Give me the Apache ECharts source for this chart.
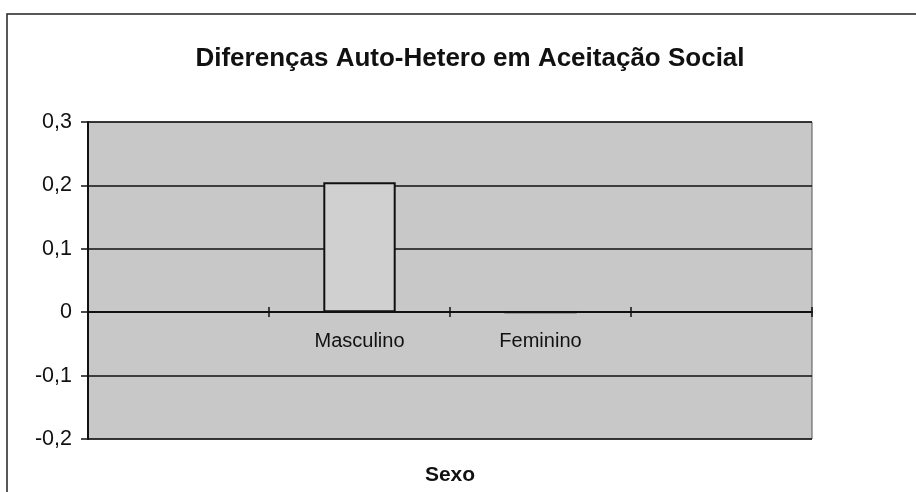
<!DOCTYPE html>
<html>
<head>
<meta charset="utf-8">
<script src="https://cdn.jsdelivr.net/npm/echarts@6/dist/echarts.min.js"></script>
<style>
  html, body { margin: 0; padding: 0; background: #fff; }
  #chart { width: 916px; height: 492px; }
</style>
</head>
<body>
<div id="chart"></div>
<script>
// Excel-style chart: first and last categories are empty slots
const categories = ['', 'Masculino', 'Feminino', '']
const diffValues = [null, 0.205, 0, null]
const yTicks = [-0.2, -0.1, 0, 0.1, 0.2, 0.3]

const fontFamily = '"Liberation Sans", Arial, sans-serif'
// zero line sits 127px above the bottom of the plot (-0.2 .. 0.3 over 317px)
const zeroOffset = -127

const chart = echarts.init(document.getElementById('chart'))

chart.setOption({
  animation: false,
  backgroundColor: '#fff',
  title: {
    text: 'Diferenças Auto-Hetero em Aceitação Social',
    left: 465,
    top: 41,
    textAlign: 'center',
    textStyle: {
      fontFamily,
      fontSize: 26,
      fontWeight: 'bold',
      color: '#111'
    }
  },
  graphic: [{
    // chart frame
    type: 'rect',
    shape: { x: 7, y: 14, width: 940, height: 520 },
    style: { fill: 'none', stroke: '#222', lineWidth: 1.5 },
    silent: true
  }],
  grid: {
    left: 88,
    right: 104,
    top: 122,
    bottom: 53,
    outerBoundsMode: 'none',
    containLabel: false,
    show: true,
    backgroundColor: '#c8c8c8',
    borderColor: '#555',
    borderWidth: 1
  },
  xAxis: [{
    type: 'category',
    data: categories,
    position: 'bottom',
    offset: zeroOffset,
    name: 'Sexo',
    nameLocation: 'middle',
    nameGap: 153,
    nameTextStyle: { fontFamily, fontSize: 21, fontWeight: 'bold', color: '#111' },
    axisLine: { onZero: false, lineStyle: { color: '#111', width: 2 } },
    axisTick: { show: true, length: 5, lineStyle: { color: '#111', width: 1.5 } },
    axisLabel: { margin: 19, fontFamily, fontSize: 20, color: '#111' },
    splitLine: { show: false }
  }, {
    // second copy only to draw the tick halves above the zero line
    type: 'category',
    data: categories,
    position: 'bottom',
    offset: zeroOffset,
    axisLine: { show: false, onZero: false },
    axisTick: { show: true, inside: true, length: 5, lineStyle: { color: '#111', width: 1.5 } },
    axisLabel: { show: false },
    splitLine: { show: false }
  }],
  yAxis: {
    type: 'value',
    min: -0.2,
    max: 0.3,
    interval: 0.1,
    axisLine: { show: true, lineStyle: { color: '#111', width: 2 } },
    axisTick: { show: true, length: 7, lineStyle: { color: '#111', width: 1.5 } },
    axisLabel: {
      margin: 16,
      fontFamily,
      fontSize: 21.5,
      color: '#111',
      formatter: v => {
        const t = yTicks.find(x => Math.abs(x - v) < 1e-9)
        return t === undefined ? '' : (t === 0 ? '0' : t.toFixed(1).replace('.', ','))
      }
    },
    splitLine: { show: true, lineStyle: { color: '#111', width: 1.5 } }
  },
  series: [{
    type: 'bar',
    data: diffValues,
    barWidth: '40%',
    itemStyle: {
      color: '#d0d0d0',
      borderColor: '#111',
      borderWidth: 2
    }
  }]
})
</script>
</body>
</html>
